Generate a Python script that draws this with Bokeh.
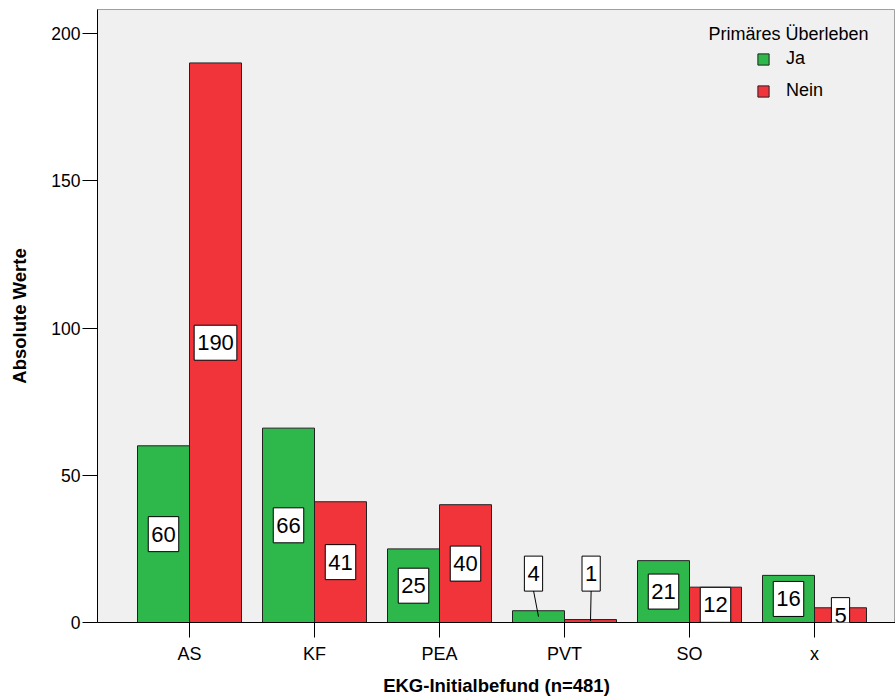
import numpy as np
from bokeh.plotting import figure
from bokeh.models import Range1d, FixedTicker, Legend, LegendItem, Label, ColumnDataSource
from bokeh.embed import file_html
from bokeh.resources import INLINE

# ---- data ----
categories = ["AS", "KF", "PEA", "PVT", "SO", "x"]
ja_values = [60, 66, 25, 4, 21, 16]
nein_values = [190, 41, 40, 1, 12, 5]
series_names = ["Ja", "Nein"]
y_ticks = [0, 50, 100, 150, 200]
legend_title = "Primäres Überleben"
x_title = "EKG-Initialbefund (n=481)"
y_title = "Absolute Werte"

# ---- style ----
GREEN = "#2eb84c"
RED = "#f0343a"
BG = "#f0f0f0"
FONT = "Liberation Sans"
BAR_W = 0.416
LIFT = 16.6          # height for labels of very small bars
SMALL = 5            # bars below this get a lifted label with a leader line

FRAME_L, FRAME_T, FRAME_B = 97, 9, 622
W, H = 895, 699
Y_MAX = 208.15
X0 = -0.736
PX_PER_CAT = 125.0
X1 = X0 + (W - FRAME_L) / PX_PER_CAT

idx = np.arange(len(categories))
x_ja = idx - BAR_W / 2
x_nein = idx + BAR_W / 2

p = figure(width=W, height=H, output_backend="svg", toolbar_location=None,
           x_range=Range1d(X0, X1), y_range=Range1d(0, Y_MAX),
           min_border_left=FRAME_L, min_border_right=0, min_border_top=FRAME_T,
           min_border_bottom=H - FRAME_B)
p.background_fill_color = BG
p.border_fill_color = "white"
p.outline_line_color = "#a0a0a0"
p.grid.visible = False

src_ja = ColumnDataSource(dict(x=x_ja, top=ja_values))
src_nein = ColumnDataSource(dict(x=x_nein, top=nein_values))
r_ja = p.vbar(x="x", top="top", width=BAR_W, bottom=0, source=src_ja,
              fill_color=GREEN, line_color="#222222", line_width=1)
r_nein = p.vbar(x="x", top="top", width=BAR_W, bottom=0, source=src_nein,
                fill_color=RED, line_color="#222222", line_width=1)

# axes
xa = p.xaxis[0]
xa.ticker = FixedTicker(ticks=list(idx))
xa.major_label_overrides = {int(i): c for i, c in zip(idx, categories)}
xa.minor_tick_line_color = None
xa.major_tick_in = 0
xa.major_tick_out = 15
xa.major_tick_line_color = "black"
xa.axis_line_color = "black"
xa.major_label_standoff = 6
xa.major_label_text_font = FONT
xa.major_label_text_font_size = "18px"
xa.major_label_text_color = "black"
xa.axis_label = x_title
xa.axis_label_text_font = FONT
xa.axis_label_text_font_size = "18.5px"
xa.axis_label_text_font_style = "bold"
xa.axis_label_text_color = "black"
xa.axis_label_standoff = 8

ya = p.yaxis[0]
ya.ticker = FixedTicker(ticks=y_ticks)
ya.minor_tick_line_color = None
ya.major_tick_in = 0
ya.major_tick_out = 15
ya.major_tick_line_color = "black"
ya.axis_line_color = "black"
ya.major_label_standoff = 2
ya.major_label_text_font = FONT
ya.major_label_text_font_size = "17.5px"
ya.major_label_text_color = "black"
ya.axis_label = y_title
ya.axis_label_text_font = FONT
ya.axis_label_text_font_size = "18.5px"
ya.axis_label_text_font_style = "bold"
ya.axis_label_text_color = "black"
ya.axis_label_standoff = 18

# value labels
px_per_unit = (FRAME_B - FRAME_T) / Y_MAX
box_half = 17 / px_per_unit
lead_x0, lead_y0, lead_x1, lead_y1 = [], [], [], []
for xs, vals, dx_small in ((x_ja, ja_values, -0.04), (x_nein, nein_values, 0.005)):
    for xv, v in zip(xs, vals):
        if v < SMALL:
            ly = LIFT
            lx = xv + dx_small
            lead_x0.append(lx); lead_y0.append(ly - box_half)
            lead_x1.append(xv); lead_y1.append(v / 2)
        else:
            ly = v / 2
            lx = xv
        p.add_layout(Label(x=lx, y=ly, text=str(v), text_align="center",
                           text_baseline="middle", text_font=FONT,
                           text_font_size="22px", text_color="black",
                           background_fill_color="white", border_line_color="black",
                           border_line_width=1,
                           padding=dict(left=3, right=3, top=10, bottom=10)))
if lead_x0:
    p.segment(x0=lead_x0, y0=lead_y0, x1=lead_x1, y1=lead_y1, line_color="black", line_width=1)

# legend
legend = Legend(items=[LegendItem(label=series_names[0], renderers=[r_ja]),
                       LegendItem(label=series_names[1], renderers=[r_nein])],
                location=(659, 521), padding=0, margin=0, spacing=11,
                glyph_width=14, glyph_height=14, label_height=14, label_standoff=16,
                label_text_font=FONT, label_text_font_size="18px", label_text_color="black",
                border_line_color=None, background_fill_alpha=0)
p.add_layout(legend)
p.add_layout(Label(x=X0 + (708 - FRAME_L) / PX_PER_CAT, y=(FRAME_B - 33) / px_per_unit,
                   text=legend_title, text_align="left", text_baseline="middle",
                   text_font=FONT, text_font_size="18px", text_color="black"))

open("out.html", "w").write(file_html(p, INLINE))
